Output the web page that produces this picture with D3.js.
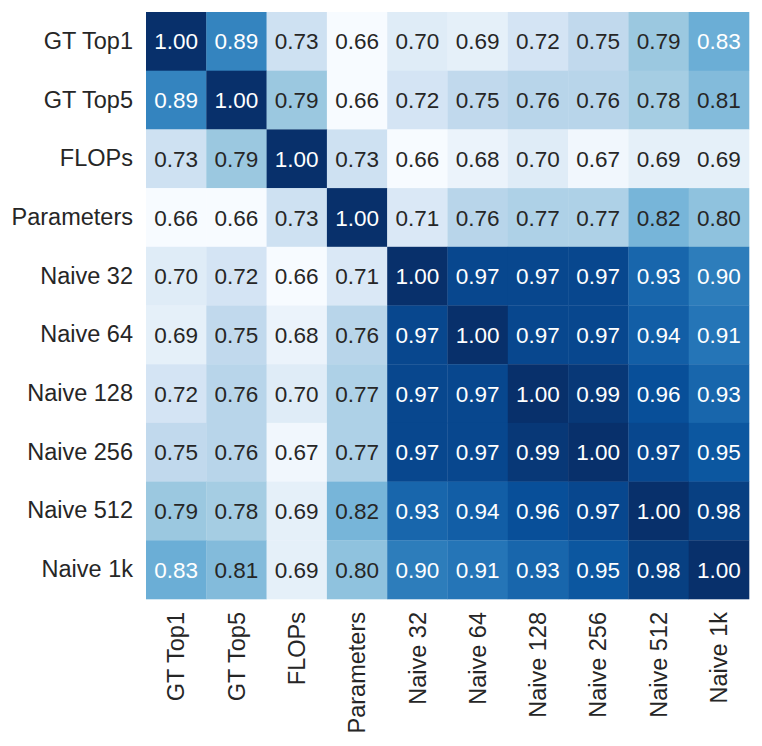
<!DOCTYPE html>
<html><head><meta charset="utf-8">
<script src="https://cdn.jsdelivr.net/npm/d3@7"></script>
<style>body{margin:0;background:#fff}svg{display:block}text{font-family:"Liberation Sans",Arial,sans-serif}</style>
</head><body><svg id="c" width="762" height="746"></svg>
<script>
const labels = ["GT Top1","GT Top5","FLOPs","Parameters","Naive 32","Naive 64","Naive 128","Naive 256","Naive 512","Naive 1k"];
const rowGTTop1   = [1.00,0.89,0.73,0.66,0.70,0.69,0.72,0.75,0.79,0.83];
const rowGTTop5   = [0.89,1.00,0.79,0.66,0.72,0.75,0.76,0.76,0.78,0.81];
const rowFLOPs    = [0.73,0.79,1.00,0.73,0.66,0.68,0.70,0.67,0.69,0.69];
const rowParams   = [0.66,0.66,0.73,1.00,0.71,0.76,0.77,0.77,0.82,0.80];
const rowNaive32  = [0.70,0.72,0.66,0.71,1.00,0.97,0.97,0.97,0.93,0.90];
const rowNaive64  = [0.69,0.75,0.68,0.76,0.97,1.00,0.97,0.97,0.94,0.91];
const rowNaive128 = [0.72,0.76,0.70,0.77,0.97,0.97,1.00,0.99,0.96,0.93];
const rowNaive256 = [0.75,0.76,0.67,0.77,0.97,0.97,0.99,1.00,0.97,0.95];
const rowNaive512 = [0.79,0.78,0.69,0.82,0.93,0.94,0.96,0.97,1.00,0.98];
const rowNaive1k  = [0.83,0.81,0.69,0.80,0.90,0.91,0.93,0.95,0.98,1.00];
const matrix = [rowGTTop1,rowGTTop5,rowFLOPs,rowParams,rowNaive32,rowNaive64,rowNaive128,rowNaive256,rowNaive512,rowNaive1k];

const blues = ["#f7fbff","#deebf7","#c6dbef","#9ecae1","#6baed6","#4292c6","#2171b5","#08519c","#08306b"];
const vmin = d3.min(matrix.flat()), vmax = d3.max(matrix.flat());
const color = d3.scaleLinear()
  .domain(blues.map((_, i) => vmin + (vmax - vmin) * i / (blues.length - 1)))
  .range(blues).interpolate(d3.interpolateRgb).clamp(true);

const L = 146, R = 749, T = 12, B = 599;
const x = d3.scaleBand().domain(labels).range([L, R]);
const y = d3.scaleBand().domain(labels).range([T, B]);
const svg = d3.select("#c");

function lum(c) {
  const rgb = d3.rgb(c);
  const f = v => { v /= 255; return v <= 0.03928 ? v / 12.92 : Math.pow((v + 0.055) / 1.055, 2.4); };
  return 0.2126 * f(rgb.r) + 0.7152 * f(rgb.g) + 0.0722 * f(rgb.b);
}

const cells = [];
matrix.forEach((row, i) => row.forEach((v, j) => cells.push({r: labels[i], c: labels[j], v})));

svg.append("g").selectAll("rect").data(cells).join("rect")
  .attr("x", d => x(d.c)).attr("y", d => y(d.r))
  .attr("width", x.bandwidth() + 0.3).attr("height", y.bandwidth() + 0.3)
  .attr("fill", d => color(d.v));

svg.append("g").selectAll("text").data(cells).join("text")
  .attr("x", d => x(d.c) + x.bandwidth() / 2)
  .attr("y", d => y(d.r) + y.bandwidth() / 2)
  .attr("dy", "0.36em").attr("text-anchor", "middle")
  .attr("font-size", 22.5)
  .attr("fill", d => lum(color(d.v)) > 0.408 ? "#262626" : "#ffffff")
  .text(d => d.v.toFixed(2));

const yAxis = svg.append("g").attr("transform", `translate(${L},0)`)
  .call(d3.axisLeft(y).tickSize(0).tickPadding(13));
yAxis.select(".domain").remove();
yAxis.selectAll("text").attr("font-size", 23.5).attr("fill", "#262626")
  .attr("font-family", "Liberation Sans, Arial, sans-serif");

const xAxis = svg.append("g").attr("transform", `translate(0,${B})`)
  .call(d3.axisBottom(x).tickSize(0).tickPadding(0));
xAxis.select(".domain").remove();
xAxis.selectAll("text").attr("font-size", 23.5).attr("fill", "#262626")
  .attr("font-family", "Liberation Sans, Arial, sans-serif")
  .attr("transform", "rotate(-90)")
  .attr("text-anchor", "end").attr("x", -13).attr("y", 0).attr("dy", "0.35em");
</script></body></html>
